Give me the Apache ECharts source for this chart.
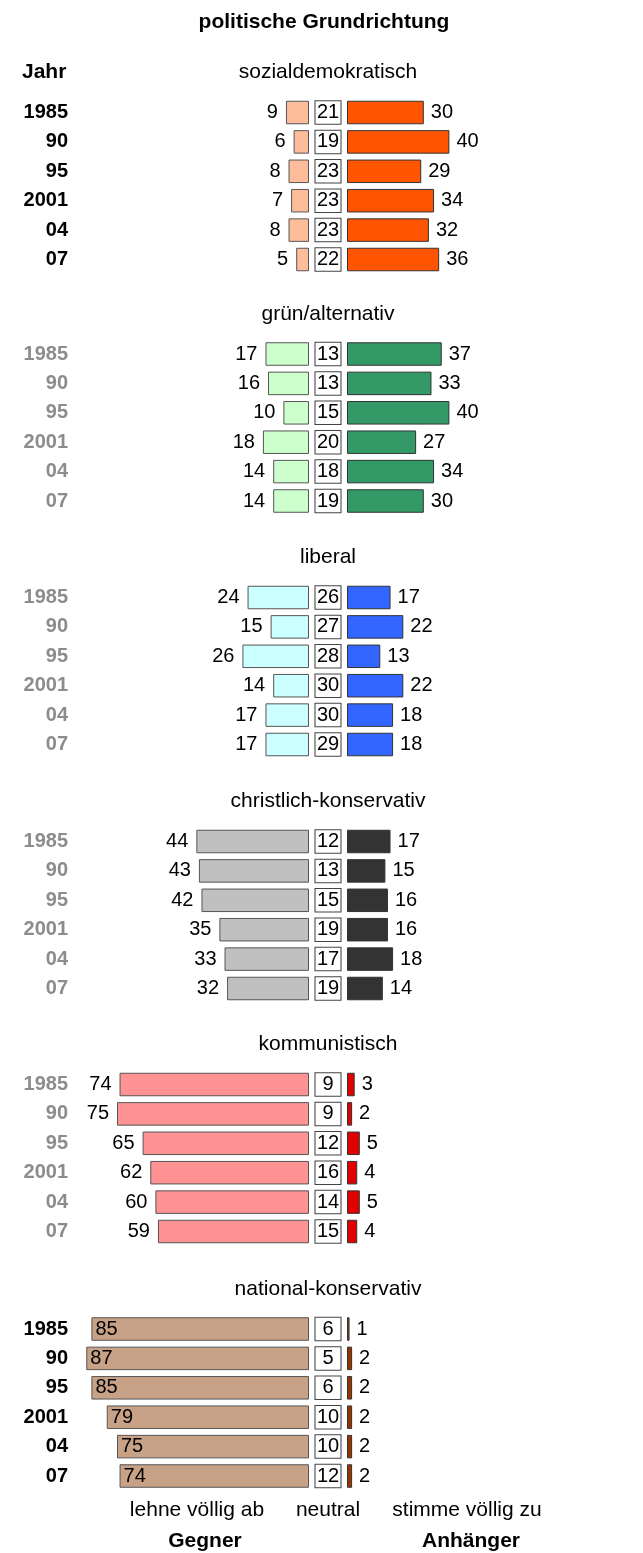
<!DOCTYPE html>
<html>
<head>
<meta charset="utf-8">
<script src="https://cdn.jsdelivr.net/npm/echarts@6/dist/echarts.min.js"></script>
<style>
  html, body { margin: 0; padding: 0; background: #fff; }
  #chart { width: 643px; height: 1553px; }
</style>
</head>
<body>
<div id="chart"></div>
<script>
// Jahre und Parteirichtungen
const years = ['1985', '90', '95', '2001', '04', '07'];
const panels = ['sozialdemokratisch', 'grün/alternativ', 'liberal', 'christlich-konservativ', 'kommunistisch', 'national-konservativ'];

// Gegner (lehne völlig ab), neutral, Anhänger (stimme völlig zu) in %
const gegner = [
  [9, 6, 8, 7, 8, 5],
  [17, 16, 10, 18, 14, 14],
  [24, 15, 26, 14, 17, 17],
  [44, 43, 42, 35, 33, 32],
  [74, 75, 65, 62, 60, 59],
  [85, 87, 85, 79, 75, 74]
];
const neutral = [
  [21, 19, 23, 23, 23, 22],
  [13, 13, 15, 20, 18, 19],
  [26, 27, 28, 30, 30, 29],
  [12, 13, 15, 19, 17, 19],
  [9, 9, 12, 16, 14, 15],
  [6, 5, 6, 10, 10, 12]
];
const anhaenger = [
  [30, 40, 29, 34, 32, 36],
  [37, 33, 40, 27, 34, 30],
  [17, 22, 13, 22, 18, 18],
  [17, 15, 16, 16, 18, 14],
  [3, 2, 5, 4, 5, 4],
  [1, 2, 2, 2, 2, 2]
];

const colorsLeft = ['#FDBD9B', '#CCFFCC', '#CCFFFF', '#C0C0C0', '#FF9393', '#C8A287'];
const colorsRight = ['#FF5500', '#339966', '#3366FF', '#333333', '#E00000', '#993300'];
const yearColors = ['#000', '#8c8c8c', '#8c8c8c', '#8c8c8c', '#8c8c8c', '#000'];

const FONT = "'Liberation Sans', Arial, sans-serif";
const PX = 2.56;           // pixel pro Prozent
const rowH = 29.4;
const firstRow = [112.5, 354, 597.5, 841.5, 1084.5, 1329];
const leftX = 76, leftEnd = 309, midW = 38, rightX = 347, W = 643;

const chart = echarts.init(document.getElementById('chart'));

const grid = [], xAxis = [], yAxis = [], series = [], graphic = [];

panels.forEach((name, p) => {
  const top = firstRow[p] - rowH / 2;
  const h = rowH * 6;
  const g0 = grid.length;
  grid.push(
    { left: leftX, top: top, width: leftEnd - leftX, height: h },
    { left: leftEnd, top: top, width: midW, height: h },
    { left: rightX, top: top, width: W - rightX, height: h }
  );
  xAxis.push(
    { gridIndex: g0, type: 'value', inverse: true, min: 0, max: (leftEnd - leftX) / PX, show: false },
    { gridIndex: g0 + 1, type: 'value', min: -1, max: 1, show: false },
    { gridIndex: g0 + 2, type: 'value', min: 0, max: (W - rightX) / PX, show: false }
  );
  for (let k = 0; k < 3; k++) {
    yAxis.push({
      gridIndex: g0 + k, type: 'category', inverse: true, data: years,
      axisLine: { show: false }, axisTick: { show: false }, splitLine: { show: false },
      axisLabel: k === 0 ? {
        show: true, margin: 8, fontFamily: FONT, fontSize: 20, fontWeight: 'bold', color: yearColors[p]
      } : { show: false }
    });
  }
  const last = p === panels.length - 1;
  series.push({
    type: 'bar', xAxisIndex: g0, yAxisIndex: g0, data: gegner[p], barWidth: 23.5,
    itemStyle: { color: colorsLeft[p], borderColor: '#555', borderWidth: 1 },
    label: {
      show: true, position: last ? 'insideLeft' : 'left', distance: last ? 4 : 8,
      fontFamily: FONT, fontSize: 20, color: '#000'
    },
    silent: true, animation: false
  });
  series.push({
    type: 'scatter', xAxisIndex: g0 + 1, yAxisIndex: g0 + 1,
    data: neutral[p].map((v, i) => [0, i, v]),
    symbol: 'rect', symbolSize: [26, 23.5],
    itemStyle: { color: '#fff', borderColor: '#444', borderWidth: 1, opacity: 1 },
    label: {
      show: true, position: 'inside', formatter: d => d.value[2],
      fontFamily: FONT, fontSize: 20, color: '#000'
    },
    silent: true, animation: false
  });
  series.push({
    type: 'bar', xAxisIndex: g0 + 2, yAxisIndex: g0 + 2, data: anhaenger[p], barWidth: 23.5,
    itemStyle: { color: colorsRight[p], borderColor: '#333', borderWidth: 1 },
    label: { show: true, position: 'right', distance: 7, fontFamily: FONT, fontSize: 20, color: '#000' },
    silent: true, animation: false
  });
  graphic.push({
    type: 'text', x: 328, y: firstRow[p] - 40,
    style: { text: name, font: '21px ' + FONT, fill: '#000', textAlign: 'center', textVerticalAlign: 'middle' }
  });
});

function txt(s, x, y, bold, align) {
  graphic.push({
    type: 'text', x: x, y: y,
    style: {
      text: s, font: (bold ? 'bold ' : '') + '21px ' + FONT, fill: '#000',
      textAlign: align || 'center', textVerticalAlign: 'middle'
    }
  });
}
txt('politische Grundrichtung', 324, 22, true);
txt('Jahr', 22, 72, true, 'left');
txt('lehne völlig ab', 197, 1510, false);
txt('neutral', 328, 1510, false);
txt('stimme völlig zu', 467, 1510, false);
txt('Gegner', 205, 1541, true);
txt('Anhänger', 471, 1541, true);

chart.setOption({
  animation: false,
  grid: grid,
  xAxis: xAxis,
  yAxis: yAxis,
  series: series,
  graphic: graphic
});
</script>
</body>
</html>
